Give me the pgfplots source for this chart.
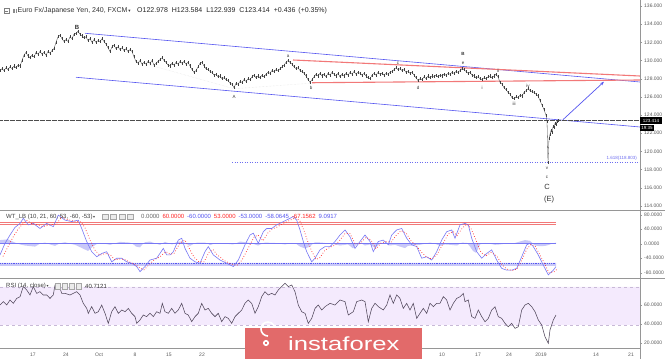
\documentclass[border=0pt]{standalone}
\usepackage{pgfplots}
\pgfplotsset{compat=1.18}
\usepackage{fontspec}
\setmainfont{Liberation Sans}
\newfontfamily\dejavu{DejaVu Sans}
\usetikzlibrary{arrows.meta}
\definecolor{chanblue}{RGB}{85,85,240}
\definecolor{trired}{RGB}{242,120,120}
\definecolor{wtblue}{RGB}{120,120,245}
\definecolor{wtfill}{RGB}{200,200,248}
\definecolor{rsiband}{RGB}{244,234,253}
\definecolor{rsidash}{RGB}{200,185,215}
\definecolor{rsiline}{RGB}{80,70,90}
\definecolor{axisgray}{RGB}{150,150,150}
\definecolor{tickgray}{RGB}{90,90,90}
\definecolor{logored}{RGB}{226,106,106}
\definecolor{fibblue}{RGB}{110,110,240}
\pgfplotsset{
  panel/.style={scale only axis, width=640pt, xmin=0, xmax=640, anchor=south west,
    axis line style={draw=none}, xtick=\empty, ytick pos=right, yticklabel pos=right,
    tick align=outside,
    yticklabel style={font=\fontsize{5}{6}\selectfont, text=tickgray, inner sep=1pt, xshift=1pt},
    major tick length=2pt, ytick style={draw=axisgray, line width=0.3pt}},
}
\begin{document}
\begin{tikzpicture}
\path[use as bounding box, fill=white] (0,0) rectangle (665pt,359pt);

% ---------------- main price panel ----------------
\begin{axis}[panel, at={(0pt,149pt)}, height=210pt, ymin=113.56, ymax=136.66,
  ytick={114,116,118,120,122,124,126,128,130,132,134,136},
  yticklabels={114.000,116.000,118.000,120.000,122.000,124.000,126.000,128.000,130.000,132.000,134.000,136.000}]
\addplot[black!12, densely dotted, line width=0.4pt] coordinates {(137,129.9) (234,126.9) (310,127.5)};
\addplot[chanblue, line width=0.6pt] coordinates {(85,133.0) (640,127.64)};
\addplot[chanblue, line width=0.6pt] coordinates {(76,128.16) (640,122.69)};
\addplot[trired, line width=1.1pt] coordinates {(293,130.06) (640,128.30)};
\addplot[trired, line width=1.1pt] coordinates {(312,127.56) (640,127.86)};
\addplot[black!70, dash pattern=on 0.5pt off 0.7pt, line width=0.45pt] coordinates {(0,123.414) (640,123.414)};
\addplot[fibblue, dash pattern=on 1pt off 1.5pt, line width=0.7pt] coordinates {(232,118.803) (640,118.803)};
\addplot[black!75, line width=0.3pt, error bars/.cd, y dir=both, y fixed=0.17, error mark=none,
  error bar style={line width=0.3pt, black!75}] table {
x y
0 128.9
2 129.1
4 128.9
6 129.2
8 129.0
10 129.3
12 129.1
14 129.4
16 129.2
18 129.5
20 129.4
22 130.0
24 130.6
26 130.9
28 130.5
30 130.3
32 130.6
34 130.4
36 130.9
38 130.7
40 131.0
42 130.7
44 130.9
46 130.6
48 131.0
50 130.8
52 131.1
54 131.3
56 132.0
58 132.6
60 132.8
62 132.4
64 132.1
66 132.3
68 132.1
70 132.6
72 132.4
74 132.9
76 133.0
78 133.2
80 132.9
82 132.7
84 132.5
86 132.6
88 132.2
90 132.4
92 132.0
94 132.3
96 132.0
98 132.2
100 132.1
102 132.4
104 132.1
106 131.8
108 131.4
110 131.0
112 131.5
114 131.7
116 131.3
118 131.5
120 131.2
122 131.4
124 131.1
126 131.3
128 131.0
130 131.2
132 131.0
134 130.4
136 129.9
138 129.7
140 130.0
142 129.6
144 129.8
146 129.6
148 129.9
150 129.7
152 130.0
154 129.5
156 129.7
158 129.9
160 130.1
162 130.3
164 130.0
166 129.8
168 129.5
170 129.4
172 129.7
174 129.5
176 129.8
178 129.6
180 129.9
182 129.7
184 129.9
186 129.6
188 129.8
190 129.4
192 129.0
194 128.7
196 128.9
198 129.3
200 129.7
202 129.8
204 129.4
206 129.1
208 129.0
210 128.8
212 128.7
214 128.4
216 128.5
218 128.2
220 128.3
222 128.0
224 128.1
226 127.9
228 127.8
230 127.5
232 127.4
234 127.0
236 127.5
238 127.4
240 127.7
242 127.6
244 127.9
246 127.7
248 128.0
250 127.9
252 128.2
254 128.4
256 128.1
258 128.3
260 128.1
262 128.4
264 128.2
266 128.5
268 128.7
270 128.6
272 128.9
274 128.8
276 129.0
278 128.9
280 129.1
282 129.3
284 129.5
286 129.8
288 130.0
290 129.8
292 129.6
294 129.3
296 129.1
298 129.2
300 128.9
302 128.8
304 128.6
306 128.3
308 127.9
310 127.6
312 127.9
314 128.2
316 128.5
318 128.3
320 128.6
322 128.3
324 128.5
326 128.2
328 128.6
330 128.4
332 128.7
334 128.5
336 128.3
338 128.6
340 128.2
342 128.5
344 128.3
346 128.6
348 128.4
350 128.7
352 128.5
354 128.8
356 128.5
358 128.7
360 128.6
362 128.4
364 128.6
366 128.3
368 128.1
370 128.0
372 128.4
374 128.6
376 128.4
378 128.7
380 128.5
382 128.6
384 128.4
386 128.6
388 128.5
390 128.7
392 128.8
394 129.0
396 129.2
398 129.0
400 129.1
402 128.9
404 129.0
406 128.7
408 128.8
410 128.6
412 128.7
414 128.4
416 128.1
418 127.8
420 128.0
422 127.9
424 128.2
426 128.0
428 128.3
430 128.1
432 128.3
434 128.2
436 128.4
438 128.2
440 128.4
442 128.3
444 128.5
446 128.4
448 128.6
450 128.5
452 128.7
454 128.6
456 128.8
458 128.7
460 128.9
462 129.1
464 129.0
466 128.8
468 128.6
470 128.7
472 128.4
474 128.3
476 128.1
478 128.2
480 128.0
482 127.9
484 128.1
486 128.0
488 128.2
490 128.3
492 128.1
494 128.3
496 128.5
498 128.2
500 127.6
502 127.4
504 127.0
506 126.8
508 126.5
510 126.3
512 125.9
514 125.8
516 126.0
518 125.9
520 126.2
522 126.1
524 126.5
526 126.7
528 126.9
530 126.7
532 126.6
534 126.5
536 126.3
538 126.1
540 125.6
542 125.1
544 124.6
546 124.0
547 123.3
548 118.8
549 121.4
550 121.9
551 122.3
552 122.1
553 122.7
554 122.6
555 123.1
556 123.0
557 123.3
558 123.41
};
\addplot[chanblue, line width=0.7pt, -{Stealth[length=4pt,width=3pt]}] coordinates {(563,123.5) (604,127.67)};
\begin{scope}[every node/.style={font=\fontsize{4.5}{5}\selectfont, text=black!80, inner sep=0pt}]
\node[font=\bfseries\fontsize{6}{6}\selectfont] at (axis cs:77,133.66) {B};
\node at (axis cs:234,126.0) {A};
\node at (axis cs:288,130.45) {a};
\node at (axis cs:311,127.0) {b};
\node at (axis cs:398,129.65) {c};
\node at (axis cs:418,127.0) {d};
\node at (axis cs:463,129.7) {e};
\node[font=\bfseries\fontsize{4.5}{5}\selectfont] at (axis cs:463,130.7) {B};
\node at (axis cs:482,127.0) {i};
\node at (axis cs:498,128.9) {ii};
\node at (axis cs:514,125.2) {iii};
\node at (axis cs:528,127.25) {iv};
\node at (axis cs:547,118.15) {v};
\node at (axis cs:547,117.2) {c};
\node[font=\fontsize{7.5}{8}\selectfont] at (axis cs:547,116.05) {C};
\node[font=\fontsize{7.5}{8}\selectfont] at (axis cs:549,114.66) {(E)};
\node[anchor=south east, text=fibblue] at (axis cs:637,118.95) {1.618(118.803)};
\end{scope}
\end{axis}

% ---------------- WT panel ----------------
\begin{axis}[panel, at={(0pt,81pt)}, height=68pt, ymin=-94.6, ymax=92.97,
  ytick={-80,-40,0,40,80}, yticklabels={-80.0000,-40.0000,0.0000,40.0000,80.0000}]
\addplot[fill=wtfill, draw=none] coordinates {(0,-53) (556,-53) (556,-61) (0,-61) (0,-53)};
\addplot[fill=wtfill, draw=none] coordinates {(0,0) (0,10) (8,12) (15,3) (20,-2) (25,-5) (35,-8) (40,0) (45,3) (50,-2) (55,-6) (60,1) (65,4) (70,0) (75,-3) (82,-12) (88,-20) (92,-10) (96,-2) (100,2) (105,0) (110,-3) (115,1) (120,5) (130,3) (134,-3) (136,-8) (140,-10) (143,0) (145,4) (150,6) (155,1) (160,-3) (165,5) (170,0) (172,-2) (175,2) (178,6) (183,5) (187,-1) (190,-6) (194,0) (197,3) (205,3) (208,0) (210,-4) (214,0) (220,2) (226,0) (233,-2) (237,2) (240,6) (245,4) (250,2) (254,-1) (258,-5) (262,0) (265,3) (275,2) (280,0) (285,-2) (292,2) (296,0) (300,-8) (305,-13) (310,-8) (313,0) (315,4) (322,3) (330,0) (335,-2) (340,-5) (348,-2) (350,-6) (353,-13) (356,-4) (358,2) (362,0) (365,-5) (370,-2) (375,-12) (378,-4) (380,0) (385,2) (390,-5) (395,-3) (400,-8) (405,-12) (408,-6) (412,-5) (420,-3) (425,0) (430,3) (435,0) (440,-6) (445,-2) (450,-3) (457,-5) (460,0) (462,3) (467,2) (470,-8) (473,-20) (476,-25) (478,-15) (480,-2) (485,2) (490,0) (495,-3) (500,-2) (505,0) (510,0) (515,2) (520,6) (525,10) (530,8) (533,0) (535,-5) (540,-7) (545,-6) (548,-4) (552,0) (556,3) (556,0)};
\addplot[wtblue, line width=0.5pt] coordinates {(0,0) (556,0)};
\addplot[trired, line width=0.7pt] coordinates {(0,60) (556,60)};
\addplot[trired, line width=0.7pt] coordinates {(0,53) (556,53)};
\addplot[chanblue, dash pattern=on 1pt off 0.8pt, line width=0.7pt] coordinates {(0,-53) (556,-53)};
\addplot[wtblue, line width=0.6pt] coordinates {(0,-31) (5,1) (10,24) (15,45) (20,56) (23.3,70) (28.3,52) (33.3,56) (40,42) (46.7,56) (53.3,47) (58.3,79) (65,65) (71.7,61) (78.3,65) (81.7,42) (86.7,6) (91.7,-22) (96.7,-36) (101.7,-27) (106.7,-22) (111.7,-50) (116.7,-40) (121.7,-40) (126.7,-50) (131.7,-54) (136.7,-63) (140,-77) (145,-63) (150,-45) (156.7,-40) (163.3,-13) (166.7,-31) (170,-31) (173.3,-22) (178.3,10) (181.7,15) (185,-13) (190,-40) (195,-50) (200,-54) (205,-22) (208.3,-8) (213.3,-31) (220,-45) (226.7,-54) (233.3,-63) (238.3,-45) (245,-3) (250,24) (253.3,29) (258.3,1) (263.3,33) (266.7,42) (271.7,42) (276.7,52) (283.3,61) (290,70) (293.3,75) (296.7,65) (300,38) (303.3,6) (306.7,-22) (311.7,-50) (315,-40) (320,-17) (325,-8) (330,-8) (335,6) (340,24) (345,38) (350,19) (355,-13) (360,6) (365,24) (370,6) (373.3,-22) (378.3,6) (383.3,10) (388.3,-3) (391.7,24) (396.7,38) (401.7,42) (406.7,15) (411.7,-3) (416.7,-8) (421.7,-40) (426.7,-36) (431.7,-45) (436.7,-22) (441.7,10) (446.7,33) (451.7,38) (455,15) (460,52) (465,56) (468.3,52) (471.7,15) (476.7,-22) (481.7,-40) (486.7,-27) (491.7,-17) (496.7,-45) (501.7,-68) (506.7,-73) (511.7,-73) (516.7,-68) (521.7,-36) (526.7,-3) (530,1) (533.3,-8) (538.3,-31) (543.3,-59) (548.3,-86) (553.3,-73) (556,-63)};
\addplot[red!85, dotted, line width=0.7pt] coordinates {(3,-35) (8,-8) (13,18) (18,40) (23,55) (27,64) (32,55) (37,53) (43,47) (50,52) (56,54) (62,74) (68,66) (75,62) (81,60) (85,44) (90,10) (95,-18) (100,-32) (105,-27) (110,-30) (115,-45) (120,-42) (125,-44) (130,-51) (135,-57) (140,-67) (144,-72) (149,-58) (154,-45) (160,-36) (166,-22) (170,-29) (174,-27) (180,2) (185,10) (189,-12) (194,-37) (199,-50) (204,-50) (209,-24) (213,-16) (217,-30) (224,-46) (231,-56) (237,-60) (242,-45) (249,-8) (254,18) (258,24) (263,8) (268,30) (272,40) (277,46) (284,57) (291,66) (296,72) (300,62) (304,36) (308,4) (312,-22) (316,-44) (320,-38) (325,-18) (330,-10) (335,-4) (340,10) (345,28) (350,28) (355,0) (360,0) (366,18) (371,10) (376,-14) (381,2) (386,6) (391,4) (396,22) (401,36) (406,30) (411,8) (416,-4) (421,-22) (427,-38) (432,-42) (437,-30) (443,0) (448,26) (453,34) (457,22) (462,42) (467,54) (471,42) (476,10) (481,-24) (486,-34) (491,-24) (497,-34) (502,-58) (507,-70) (512,-74) (517,-70) (522,-44) (527,-14) (531,-2) (535,-6) (539,-26) (544,-52) (549,-80) (554,-78) (557,-70)};
\end{axis}

% ---------------- RSI panel ----------------
\begin{axis}[panel, at={(0pt,11pt)}, height=70pt, ymin=5.79, ymax=79.47,
  ytick={51.05,31.4,11.05}, yticklabels={60.0000,40.0000,20.0000},
  xtick={33,66,99,135,169,202,442,478,509,541,596,631},
  xticklabels={17,24,Oct,8,15,22,10,17,24,2019,14,21},
  xtick pos=bottom, xtick style={draw=none},
  xticklabel style={font=\fontsize{5}{6}\selectfont, text=tickgray, inner sep=1pt, yshift=-2pt}]
\addplot[fill=rsiband, draw=none] coordinates {(0,30) (640,30) (640,70) (0,70) (0,30)};
\addplot[rsidash, dashed, line width=0.4pt] coordinates {(0,70) (640,70)};
\addplot[rsidash, dashed, line width=0.4pt] coordinates {(0,30) (640,30)};
\addplot[rsiline, line width=0.55pt] coordinates {(0,51) (3.3,54.6) (6.7,51) (10,56.3) (13.3,52.8) (16.7,58) (20,59.8) (23.3,70.4) (26.7,66.8) (30,61.6) (33.3,70.4) (36.7,63.3) (40,65.1) (43.3,61.6) (46.7,61.6) (50,58) (53.3,61.6) (55,72.1) (58.3,73.9) (61.7,63.3) (65,63.3) (70,61.6) (73.3,63.3) (76.7,65.1) (80,61.6) (83.3,52.8) (86.7,47.5) (88.3,42.3) (91.7,49.3) (95,42.3) (98.3,44) (101.7,51) (105,42.3) (108.3,31.7) (111.7,44) (115,49.3) (118.3,42.3) (121.7,45.8) (125,44) (128.3,47.5) (131.7,42.3) (135,38.8) (136.7,31.7) (140,35.3) (143.3,40.5) (146.7,38.8) (150,42.3) (153.3,38.8) (156.7,44) (160,42.3) (162.3,52.8) (165,44) (168.3,42.3) (171.7,47.5) (175,42.3) (178.3,45.8) (181.7,52.8) (185,42.3) (188.3,40.5) (191.7,33.5) (195,38.8) (198.3,42.3) (201.7,52.8) (205,45.8) (208.3,47.5) (211.7,42.3) (215,38.8) (218.3,42.3) (221.7,33.5) (225,38.8) (228.3,37) (231.7,31.7) (235,38.8) (238.3,42.3) (241.7,45.8) (245,52.8) (248.3,56.3) (251.7,52.8) (255,42.3) (258.3,49.3) (261.7,59.8) (265,65.1) (268.3,61.6) (271.7,63.3) (275,61.6) (278.3,66.8) (281.7,70.4) (285,73.9) (288.3,70.4) (291.7,72.1) (295,65.1) (298.3,51) (301.7,44) (305,42.3) (308.3,31.7) (311.7,37) (315,47.5) (318.3,51) (321.7,45.8) (325,49.3) (330,52.8) (335,51) (340,56.3) (345,54.6) (348.3,40.5) (353.3,44) (356.7,54.6) (361.7,56.3) (365,54.6) (368.3,33.5) (371.7,47.5) (375,52.8) (378.3,49.3) (383.3,45.8) (386.7,51) (390,61.6) (393.3,52.8) (396.7,61.6) (400,58) (403.3,47.5) (406.7,52.8) (410,45.8) (413.3,52.8) (416.7,37) (420,42.3) (423.3,47.5) (426.7,42.3) (430,52.8) (433.3,49.3) (436.7,52.8) (440,52.8) (443.3,59.8) (446.7,56.3) (450,45.8) (453.3,52.8) (456.7,58) (460,59.8) (463.3,63.3) (465,54.6) (468.3,56.3) (471.7,38.8) (475,37) (478.3,45.8) (481.7,38.8) (485,33.5) (488.3,37) (491.7,45.8) (495,49.3) (498.3,38.8) (501.7,37) (505,31.7) (508.3,28.2) (511.7,31.7) (515,26.5) (518.3,28.2) (521.7,45.8) (525,51) (528.3,52.8) (531.7,49.3) (535,44) (538.3,35.3) (541.7,30) (545,17.7) (548.3,10.7) (550,24.7) (553.3,35.3) (556,40.5)};
\end{axis}

% ---------------- decorations in pixel coordinates ----------------
\begin{scope}[x=1pt, y=-1pt, shift={(0pt,359pt)}]
\draw[axisgray, line width=0.5pt] (0,210) -- (665,210);
\draw[axisgray, line width=0.5pt] (0,278) -- (665,278);
\draw[axisgray, line width=0.5pt] (0,348) -- (640,348);
\draw[axisgray, line width=0.5pt] (640,0) -- (640,359);
% price tag
\fill[black] (640,117.3) rectangle (662,123.7);
\node[text=white, font=\fontsize{4.5}{5}\selectfont, inner sep=0pt] at (651,120.5) {123.414};
\fill[black] (640,124.6) rectangle (654,131);
\node[text=white, font=\fontsize{4.5}{5}\selectfont, inner sep=0pt] at (647,127.8) {19:35};
% title
\draw[black!50, line width=0.4pt] (4,8.5) rectangle (9,13.5);
\draw[black!50, line width=0.4pt] (5.2,11) -- (7.8,11);
\draw[black!45, line width=0.5pt] (13,9) -- (13,13) (14.5,9) -- (14.5,13) (16,9) -- (16,13);
\node[anchor=west, inner sep=0pt, font=\fontsize{7}{8}\selectfont, text=black!80] at (17.5,11) {Euro Fx/Japanese Yen, 240, FXCM{\dejavu\fontsize{4.5}{5}\selectfont\,▾}};
\node[anchor=west, inner sep=0pt, font=\fontsize{7}{8}\selectfont, text=black!85] at (137,11) {O122.978\hspace{4pt}H123.584\hspace{4pt}L122.939\hspace{4pt}C123.414\hspace{4pt}+0.436\hspace{3pt}(+0.35\%)};
% WT legend
\node[anchor=west, inner sep=0pt, font=\fontsize{6}{7}\selectfont, text=black!75] at (6,216.7) {WT\_LB (10, 21, 60, 53, -60, -53){\dejavu\fontsize{4}{5}\selectfont\,▾}};
\foreach \i in {0,1,2,3} {\draw[black!35, fill=black!8, line width=0.3pt] (102+\i*8.5,214) rectangle (108+\i*8.5,219.5);}
\node[anchor=west, inner sep=0pt, font=\fontsize{6}{7}\selectfont] at (141,216.7) {\textcolor{black!60}{0.0000}\hspace{3pt}\textcolor{red!85}{60.0000}\hspace{3pt}\textcolor{chanblue}{-60.0000}\hspace{3pt}\textcolor{red!85}{53.0000}\hspace{3pt}\textcolor{chanblue}{-53.0000}\hspace{3pt}\textcolor{chanblue}{-58.0645}\hspace{3pt}\textcolor{red!85}{-67.1562}\hspace{3pt}\textcolor{chanblue}{9.0917}};
% RSI legend
\node[anchor=west, inner sep=0pt, font=\fontsize{6}{7}\selectfont, text=black!75] at (6,286) {RSI (14, close){\dejavu\fontsize{4}{5}\selectfont\,▾}};
\foreach \i in {0,1,2,3} {\draw[black!35, fill=black!8, line width=0.3pt] (55+\i*7,283.5) rectangle (60.5+\i*7,289);}
\node[anchor=west, inner sep=0pt, font=\fontsize{6}{7}\selectfont, text=black!80] at (85,286) {40.7121};
% logo
\fill[logored] (245,328) rectangle (422,359);
\draw[white, line width=1.6pt] (268,336) arc[start angle=90, end angle=330, radius=7];
\draw[white, line width=1.6pt] (266,343) circle[radius=2.2];
\node[anchor=west, inner sep=0pt, text=white] at (288,343.5) {\scalebox{1.35}[1]{\fontsize{19}{20}\selectfont instaforex}};
\end{scope}
\end{tikzpicture}
\end{document}
